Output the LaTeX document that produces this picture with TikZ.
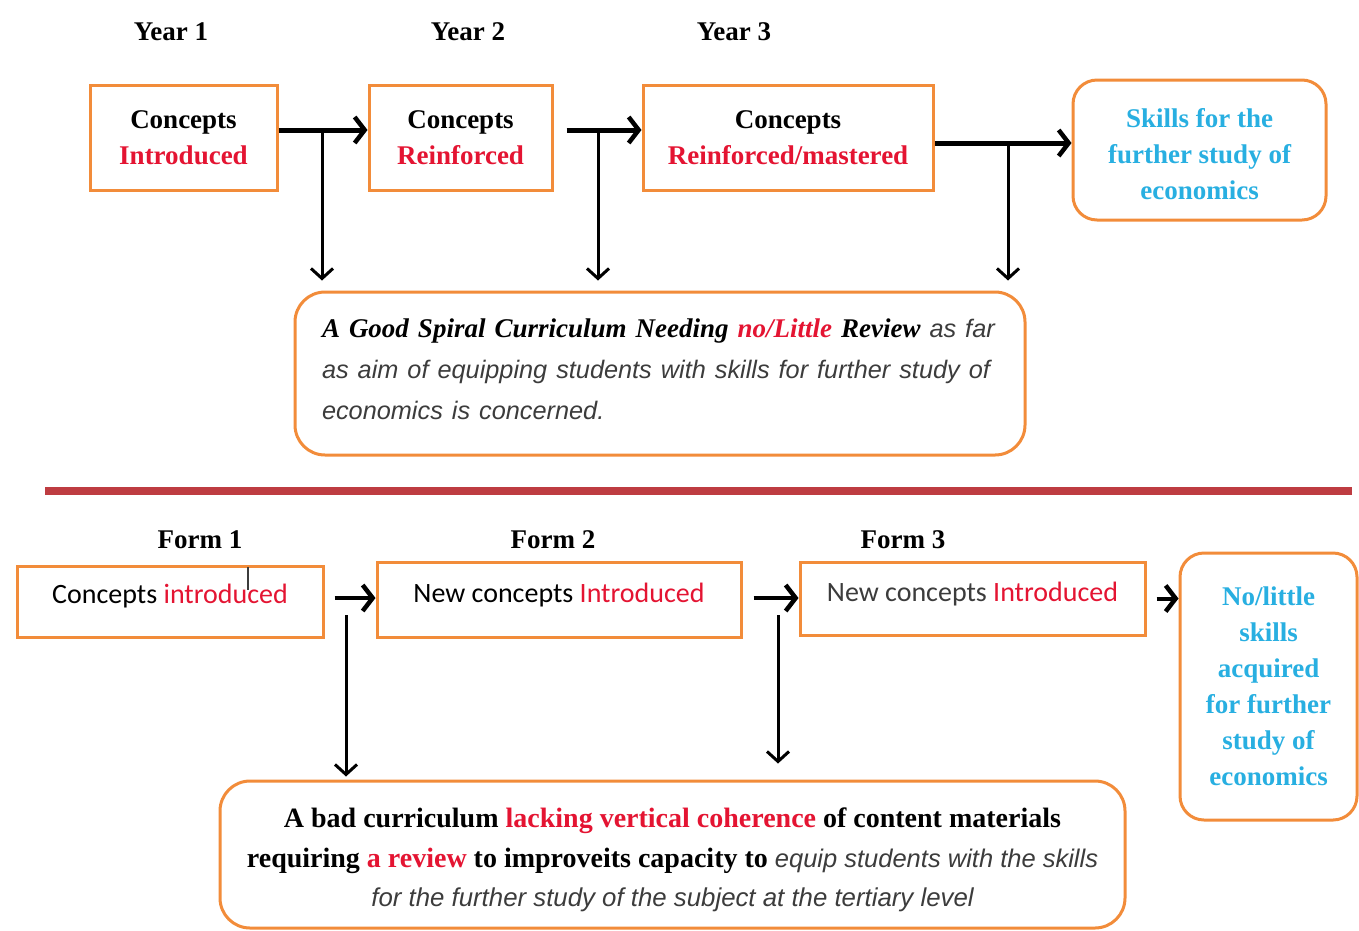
\documentclass[tikz,border=0pt]{standalone}
\usepackage{fontspec}
\setmainfont{Liberation Serif}
\newfontfamily\carl{Carlito}
\newfontfamily\lsans{Liberation Sans}
\usetikzlibrary{arrows.meta}
\definecolor{boxor}{RGB}{242,140,58}
\definecolor{myred}{RGB}{228,20,50}
\definecolor{myblue}{RGB}{40,175,225}
\definecolor{divred}{RGB}{190,60,65}
\definecolor{itgray}{RGB}{60,60,60}
\begin{document}
\begin{tikzpicture}[x=1pt,y=-1pt,
  box/.style={draw=boxor,line width=3pt,fill=white,inner sep=0pt,align=center},
  rbox/.style={box,rounded corners=24pt},
  lbl/.style={font=\fontsize{27}{30}\selectfont\bfseries},
  hd/.style={font=\fontsize{27}{36}\selectfont\bfseries},
  sn/.style={font=\fontsize{28}{30}\selectfont\carl},
  harr/.style={line width=5pt,-{Straight Barb[length=10pt,width=26pt,line width=4.5pt]}},
  varr/.style={line width=3pt,-{Straight Barb[length=10pt,width=22pt,line width=3pt]}},
  sit/.style={font=\lsans\itshape,color=itgray}
]
\useasboundingbox (0,0) rectangle (1359,930);
% top row
\node[lbl] (y1) at (171,32) {Year 1};
\node[lbl] (y2) at (468,32) {Year 2};
\node[lbl] (y3) at (734,32) {Year 3};
\node[box,hd,minimum width=187pt,minimum height=105pt] (c1) at (183.5,137.5) {Concepts\\\textcolor{myred}{Introduced}};
\node[box,hd,minimum width=183pt,minimum height=105pt] (c2) at (460.5,137.5) {Concepts\\\textcolor{myred}{Reinforced}};
\node[box,hd,minimum width=290pt,minimum height=105pt] (c3) at (788,137.5) {Concepts\\\textcolor{myred}{Reinforced/mastered}};
\node[rbox,hd,text=myblue,minimum width=253pt,minimum height=140pt] (c4) at (1199.5,150) {\rule{0pt}{28pt}Skills for the\\further study of\\economics};
\node[rbox,rounded corners=30pt,minimum width=730pt,minimum height=163pt,text width=700pt,align=left,inner xsep=15pt,font=\fontsize{27}{41}\selectfont] (sp) at (660,373.5)
 {\hspace*{12pt}{\bfseries\itshape A Good Spiral Curriculum Needing \textcolor{myred}{no/Little} Review} {\lsans\itshape\color{itgray}\fontsize{25.3}{41}\selectfont as far}\\
  \hspace*{12pt}{\lsans\itshape\color{itgray}\fontsize{25.3}{41}\selectfont as aim of equipping students with skills for further study of}\\
  \hspace*{12pt}{\lsans\itshape\color{itgray}\fontsize{25.3}{41}\selectfont economics is concerned.}\rule[-8pt]{0pt}{1pt}};
\coordinate (j1) at (322,130);
\coordinate (j2) at (598,130);
\coordinate (j3) at (1008,143);
\draw[harr] ([yshift=7.5pt]c1.east) -- ([yshift=7.5pt]c1.east -| c2.west);
\draw[harr,shorten <=13pt] ([yshift=7.5pt]c2.east) -- ([yshift=7.5pt]c2.east -| c3.west);
\draw[harr] ([yshift=-5.5pt]c3.east) -- ([yshift=-5.5pt]c3.east -| c4.west);
\draw[varr,shorten >=10pt] (j1) -- (j1 |- sp.north);
\draw[varr,shorten >=10pt] (j2) -- (j2 |- sp.north);
\draw[varr,shorten >=10pt] (j3) -- (j3 |- sp.north);
% divider
\draw[line width=8pt,divred] (45,491) -- (1352,491);
% bottom row
\node[lbl] (f1l) at (200,540) {Form 1};
\node[lbl] (f2l) at (553,540) {Form 2};
\node[lbl] (f3l) at (903,540) {Form 3};
\node[box,sn,minimum width=306pt,minimum height=71pt,text height=18pt,text depth=14pt] (f1) at (170,601.5) {Concepts \textcolor{myred}{introduced}};
\node[box,sn,minimum width=364pt,minimum height=75pt,text height=18pt,text depth=13pt] (f2) at (559,599.5) {New concepts \textcolor{myred}{Introduced}};
\node[box,sn,minimum width=345pt,minimum height=73pt,text height=18pt,text depth=13pt,text=itgray] (f3) at (972.5,598.5) {New concepts \textcolor{myred}{Introduced}};
\node[rbox,hd,text=myblue,minimum width=177pt,minimum height=267pt] (r) at (1268.5,686.5) {No/little\\skills\\acquired\\for further\\study of\\economics};
\node[rbox,rounded corners=30pt,minimum width=905pt,minimum height=147pt,font=\fontsize{28}{39.5}\selectfont\bfseries] (bb) at (672.5,854.5)
 {\rule{0pt}{31pt}A bad curriculum \textcolor{myred}{lacking vertical coherence} of content materials\\
  requiring \textcolor{myred}{a review} to improveits capacity to {\lsans\mdseries\itshape\color{itgray}\fontsize{25.5}{39.5}\selectfont equip students with the skills}\\
  {\lsans\mdseries\itshape\color{itgray}\fontsize{25.8}{39.5}\selectfont for the further study of the subject at the tertiary level}};
\draw[line width=1.2pt,itgray] (248,567) -- (248,590);
\coordinate (v1) at (346,615);
\coordinate (v2) at (778,615);
\draw[harr,line width=4pt,shorten <=10pt] ([yshift=3.5pt]f1.east) -- ([yshift=3.5pt]f1.east -| f2.west);
\draw[harr,line width=4pt,shorten <=11pt] ([yshift=1.5pt]f2.east) -- ([yshift=1.5pt]f2.east -| f3.west);
\draw[harr,line width=4pt,shorten <=10pt] (f3.east) -- (f3.east -| r.west);
\draw[varr,shorten >=3pt] (v1) -- (v1 |- bb.north);
\draw[varr,shorten >=16pt] (v2) -- (v2 |- bb.north);
\end{tikzpicture}
\end{document}
